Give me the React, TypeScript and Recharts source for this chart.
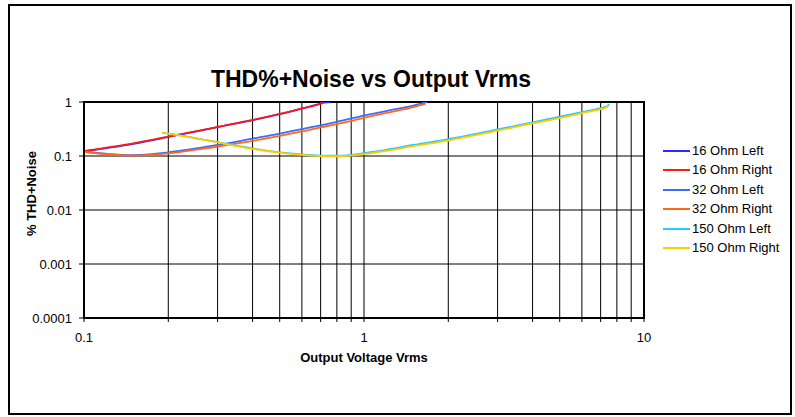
import React from 'react';
import { LineChart, Line, XAxis, YAxis, CartesianGrid, ReferenceArea } from 'recharts';

// ---- data ----
const xGridTicks = [0.1, 0.2, 0.3, 0.4, 0.5, 0.6, 0.7, 0.8, 0.9, 1, 2, 3, 4, 5, 6, 7, 8, 9, 10];
const xLabelTicks = [0.1, 1, 10];
const yTicks = [0.0001, 0.001, 0.01, 0.1, 1];

const v16L = [0.1, 0.15, 0.2, 0.3, 0.4, 0.5, 0.6, 0.7, 0.72, 0.76];
const thd16L = [0.122, 0.168, 0.225, 0.343, 0.462, 0.595, 0.755, 0.93, 0.97, 1.0];
const v16R = [0.1, 0.15, 0.2, 0.3, 0.4, 0.5, 0.6, 0.7, 0.715];
const thd16R = [0.124, 0.172, 0.228, 0.345, 0.465, 0.6, 0.76, 0.94, 1.0];

const v32L = [0.1, 0.12, 0.15, 0.2, 0.3, 0.4, 0.5, 0.6, 0.7, 0.8, 1.0, 1.2, 1.5, 1.68];
const thd32L = [0.12, 0.11, 0.104, 0.117, 0.16, 0.21, 0.26, 0.315, 0.37, 0.43, 0.56, 0.68, 0.86, 1.0];
const v32R = [0.1, 0.12, 0.15, 0.2, 0.3, 0.4, 0.5, 0.6, 0.7, 0.8, 1.0, 1.2, 1.5, 1.66];
const thd32R = [0.12, 0.108, 0.102, 0.112, 0.15, 0.19, 0.235, 0.285, 0.34, 0.39, 0.51, 0.63, 0.8, 0.93];

const v150L = [0.19, 0.25, 0.3, 0.4, 0.5, 0.6, 0.7, 0.8, 0.9, 1.0, 1.2, 1.5, 2, 3, 4, 5, 6, 7, 7.4, 7.5];
const thd150L = [0.27, 0.215, 0.18, 0.138, 0.117, 0.107, 0.102, 0.101, 0.105, 0.113, 0.13, 0.16, 0.206, 0.31, 0.42, 0.535, 0.65, 0.77, 0.84, 0.92];
const v150R = [0.19, 0.25, 0.3, 0.4, 0.5, 0.6, 0.7, 0.8, 0.9, 1.0, 1.2, 1.5, 2, 3, 4, 5, 6, 7, 7.4, 7.45];
const thd150R = [0.27, 0.213, 0.178, 0.136, 0.115, 0.105, 0.1, 0.099, 0.102, 0.108, 0.124, 0.152, 0.193, 0.294, 0.4, 0.505, 0.62, 0.74, 0.81, 0.88];

const seriesNames = ['16 Ohm Left', '16 Ohm Right', '32 Ohm Left', '32 Ohm Right', '150 Ohm Left', '150 Ohm Right'];
const seriesColors = ['#2b2bff', '#ff1a1a', '#3d6bff', '#ff6a1a', '#22ccff', '#ffcc00'];
const seriesX = [v16L, v16R, v32L, v32R, v150L, v150R];
const seriesY = [thd16L, thd16R, thd32L, thd32R, thd150L, thd150R];

const series = seriesNames.map((name, i) => ({
  name,
  color: seriesColors[i],
  data: seriesX[i].map((x, j) => ({ x, y: seriesY[i][j] })),
}));

const FONT = 'Arial, "Liberation Sans", Helvetica, sans-serif';

export default function App() {
  return (
    <div style={{ position: 'absolute', left: 0, top: 0, width: 795, height: 417, background: '#fff', fontFamily: FONT, color: '#000' }}>
      <div style={{ position: 'absolute', left: 8, top: 4, width: 784, height: 411, border: '2px solid #000', boxSizing: 'border-box' }} />
      <div style={{ position: 'absolute', left: 171, top: 66, width: 400, textAlign: 'center', fontSize: 23, fontWeight: 'bold', lineHeight: '26px' }}>
        THD%+Noise vs Output Vrms
      </div>
      <div style={{ position: 'absolute', left: 0, top: 0 }}>
        <LineChart width={795} height={417} margin={{ top: 102, right: 151, bottom: 69, left: 24 }}>
          <CartesianGrid stroke="#000" strokeWidth={1} />
          <XAxis
            type="number"
            dataKey="x"
            scale="log"
            domain={[0.1, 10]}
            ticks={xGridTicks}
            allowDataOverflow
            interval={0}
            tickFormatter={(v: number) => (xLabelTicks.includes(v) ? String(v) : '')}
            tickSize={4}
            tickMargin={11}
            height={30}
            axisLine={{ stroke: '#000', strokeWidth: 2 }}
            tickLine={{ stroke: '#000' }}
            tick={{ fill: '#000', fontSize: 13, fontFamily: FONT }}
          />
          <YAxis
            type="number"
            dataKey="y"
            scale="log"
            domain={[0.0001, 1]}
            ticks={yTicks}
            allowDataOverflow
            interval={0}
            tickFormatter={(v: number) => String(v)}
            width={60}
            tickSize={5}
            tickMargin={7}
            axisLine={{ stroke: '#000', strokeWidth: 2 }}
            tickLine={{ stroke: '#000' }}
            tick={{ fill: '#000', fontSize: 13, fontFamily: FONT }}
          />
          <ReferenceArea x1={0.1} x2={10} y1={0.0001} y2={1} fill="none" stroke="#000" strokeWidth={2} fillOpacity={0} />
          {series.map((s) => (
            <Line
              key={s.name}
              data={s.data}
              dataKey="y"
              name={s.name}
              type="monotone"
              stroke={s.color}
              strokeWidth={1.8}
              dot={false}
              activeDot={false}
              isAnimationActive={false}
            />
          ))}
        </LineChart>
      </div>
      <div style={{ position: 'absolute', left: 5, top: 201, width: 54, height: 16, fontSize: 13, fontWeight: 'bold', lineHeight: '16px', textAlign: 'center', transform: 'rotate(-90deg)', transformOrigin: '27px 8px', whiteSpace: 'nowrap' }}>
        % THD+Noise
      </div>
      <div style={{ position: 'absolute', left: 264, top: 350, width: 200, textAlign: 'center', fontSize: 13, fontWeight: 'bold', lineHeight: '15px' }}>
        Output Voltage Vrms
      </div>
      <div style={{ position: 'absolute', left: 663, top: 141 }}>
        {series.map((s) => (
          <div key={s.name} style={{ display: 'flex', alignItems: 'center', height: 19.5, fontSize: 13, lineHeight: '16px', whiteSpace: 'nowrap' }}>
            <div style={{ width: 27, height: 2, background: s.color, marginRight: 2 }} />
            <span>{s.name}</span>
          </div>
        ))}
      </div>
    </div>
  );
}
